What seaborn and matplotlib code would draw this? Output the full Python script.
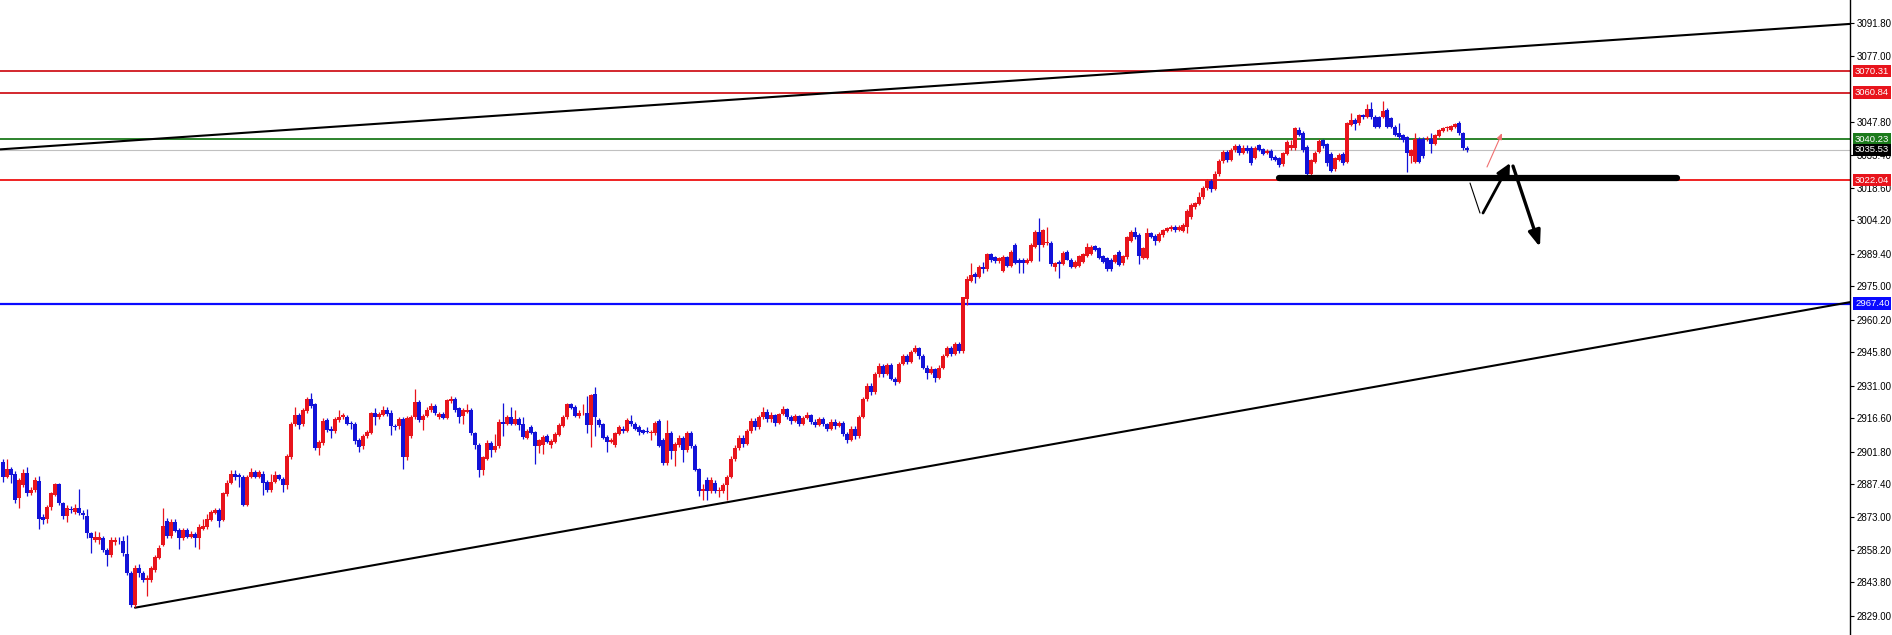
import numpy as np
import pandas as pd
import matplotlib
matplotlib.use("Agg")
import matplotlib.pyplot as plt
import matplotlib.transforms as mtransforms
import seaborn as sns

# candle data (one bar per period)
opens = [
    2897.3, 2890.7, 2893.9, 2892.0, 2881.0, 2887.0, 2892.1, 2883.3, 2884.7, 2888.9,
    2873.0, 2871.7, 2877.4, 2882.5, 2887.4, 2878.8, 2873.2, 2876.0, 2875.1, 2876.6,
    2874.7, 2873.2, 2865.5, 2862.6, 2862.5, 2863.3, 2858.2, 2855.9, 2861.8, 2862.6,
    2862.1, 2856.2, 2848.1, 2833.8, 2850.0, 2848.1, 2844.9, 2844.9, 2849.3, 2854.5,
    2860.4, 2871.0, 2864.5, 2870.7, 2867.0, 2863.3, 2867.0, 2864.1, 2865.3, 2863.3,
    2867.5, 2868.2, 2871.5, 2874.4, 2875.9, 2871.5, 2883.0, 2888.0, 2891.7, 2891.5,
    2890.7, 2878.1, 2890.7, 2892.6, 2890.7, 2892.0, 2888.4, 2884.7, 2888.4, 2891.4,
    2889.8, 2887.0, 2899.5, 2913.9, 2917.9, 2913.9, 2919.9, 2924.9, 2922.7, 2903.2,
    2905.7, 2915.7, 2911.6, 2911.0, 2915.7, 2916.9, 2916.9, 2914.5, 2913.8, 2907.1,
    2904.2, 2908.6, 2910.2, 2919.0, 2916.9, 2918.2, 2920.1, 2919.0, 2913.1, 2913.1,
    2916.0, 2899.5, 2908.6, 2916.9, 2923.8, 2915.7, 2917.5, 2920.1, 2921.9, 2916.9,
    2918.4, 2916.5, 2924.3, 2925.3, 2920.9, 2917.5, 2919.4, 2920.4, 2909.8, 2904.6,
    2893.6, 2898.7, 2905.4, 2902.4, 2904.2, 2915.0, 2914.2, 2916.9, 2914.2, 2916.0,
    2913.9, 2908.0, 2912.5, 2910.5, 2904.2, 2904.6, 2908.6, 2904.6, 2906.1, 2909.1,
    2913.1, 2916.9, 2922.7, 2921.6, 2917.5, 2918.7, 2919.0, 2913.5, 2927.1, 2915.7,
    2913.9, 2908.3, 2906.1, 2904.6, 2909.5, 2912.0, 2910.8, 2915.4, 2914.2, 2912.8,
    2911.3, 2910.4, 2909.8, 2909.8, 2915.3, 2907.1, 2896.8, 2910.1, 2902.1, 2904.6,
    2907.6, 2902.4, 2910.1, 2904.2, 2893.9, 2884.4, 2889.4, 2884.4, 2887.7, 2884.4,
    2884.4, 2886.9, 2890.6, 2898.7, 2903.5, 2908.0, 2905.0, 2911.0, 2915.5, 2912.5,
    2917.0, 2919.5, 2916.0, 2918.0, 2914.5, 2918.5, 2920.5, 2917.0, 2915.5, 2917.5,
    2914.0, 2916.5, 2918.0, 2915.0, 2913.5, 2916.0, 2914.0, 2912.0, 2915.0, 2913.0,
    2914.5, 2909.5, 2907.0, 2912.0, 2908.5, 2917.0, 2925.0, 2931.0, 2928.0, 2936.0,
    2939.5, 2936.0, 2940.0, 2934.0, 2932.5, 2940.5, 2944.0, 2941.5, 2946.0, 2947.5,
    2944.0, 2939.0, 2936.5, 2938.5, 2934.5, 2939.0, 2944.0, 2947.5, 2945.0, 2949.5,
    2946.5, 2969.2, 2977.5, 2980.5, 2979.3, 2983.4, 2982.9, 2989.3, 2987.8, 2986.4,
    2982.0, 2987.8, 2984.0, 2993.3, 2986.6, 2986.9, 2985.5, 2986.4, 2992.6, 2999.2,
    2993.3, 2994.2, 2994.0, 2983.4, 2985.9, 2984.9, 2990.3, 2986.9, 2983.4, 2984.0,
    2985.9, 2988.4, 2989.3, 2992.9, 2991.8, 2988.4, 2987.4, 2986.9, 2985.9, 2990.3,
    2985.2, 2987.8, 2995.2, 2999.2, 2997.7, 2987.4, 2987.4, 2998.5, 2997.3, 2995.2,
    2997.7, 2999.6, 3000.2, 3001.4, 2999.9, 2999.6, 3001.4, 3005.9, 3010.3, 3011.5,
    3014.7, 3018.5, 3021.5, 3018.0, 3025.0, 3030.5, 3034.5, 3031.0, 3035.5, 3037.0,
    3034.0, 3036.5, 3036.1, 3032.1, 3037.5, 3035.7, 3034.1, 3035.1, 3032.4, 3032.0,
    3029.2, 3033.6, 3036.1, 3036.1, 3044.5, 3043.1, 3036.9, 3024.8, 3030.1, 3034.6,
    3039.8, 3038.0, 3033.6, 3026.8, 3031.0, 3033.6, 3030.2, 3046.5, 3048.7, 3047.2,
    3050.9, 3050.2, 3053.8, 3050.2, 3049.9, 3050.2, 3053.1, 3049.4, 3045.7, 3043.1,
    3042.0, 3041.0, 3032.7, 3030.2, 3040.5, 3040.5, 3040.1, 3040.5, 3038.3, 3041.5,
    3044.0, 3045.0, 3044.5, 3045.7, 3047.5, 3043.1, 3036.1,
]
highs = [
    2898.5, 2898.3, 2895.0, 2893.0, 2890.0, 2894.0, 2895.0, 2886.0, 2890.5, 2891.0,
    2874.0, 2878.0, 2884.0, 2888.0, 2888.0, 2879.5, 2878.0, 2877.5, 2878.5, 2885.0,
    2876.0, 2876.5, 2866.0, 2866.5, 2866.0, 2864.5, 2859.0, 2864.0, 2864.0, 2864.0,
    2864.5, 2864.8, 2849.0, 2851.5, 2851.8, 2849.0, 2847.0, 2851.0, 2856.0, 2860.5,
    2876.6, 2872.5, 2872.0, 2872.0, 2868.0, 2868.0, 2868.0, 2866.5, 2866.0, 2869.5,
    2872.0, 2874.0, 2876.0, 2877.0, 2877.0, 2884.0, 2889.0, 2893.7, 2893.5, 2892.5,
    2891.5, 2891.5, 2894.5, 2893.5, 2893.5, 2893.0, 2889.0, 2892.0, 2893.0, 2892.0,
    2890.5, 2900.5, 2915.0, 2921.6, 2919.0, 2921.0, 2926.0, 2927.8, 2923.5, 2907.0,
    2916.5, 2916.5, 2913.0, 2917.0, 2920.4, 2919.0, 2918.0, 2915.5, 2915.0, 2908.0,
    2909.5, 2911.5, 2919.5, 2921.3, 2919.5, 2921.9, 2921.5, 2920.0, 2914.0, 2917.0,
    2917.2, 2917.5, 2918.0, 2929.7, 2924.5, 2918.5, 2921.5, 2923.1, 2922.7, 2919.5,
    2919.2, 2925.3, 2926.3, 2926.0, 2921.5, 2921.0, 2922.9, 2921.0, 2910.5, 2905.5,
    2900.0, 2907.1, 2906.5, 2909.5, 2916.0, 2923.1, 2918.0, 2921.6, 2920.4, 2917.0,
    2916.9, 2912.0, 2913.5, 2911.0, 2907.5, 2909.0, 2909.5, 2907.5, 2910.5, 2914.5,
    2918.0, 2923.5, 2923.5, 2922.5, 2920.0, 2922.7, 2926.3, 2927.5, 2930.2, 2916.5,
    2914.5, 2909.0, 2908.0, 2910.5, 2913.5, 2913.0, 2916.5, 2917.9, 2915.0, 2913.5,
    2912.0, 2912.8, 2911.5, 2915.5, 2916.0, 2908.0, 2915.7, 2911.0, 2906.0, 2909.0,
    2908.5, 2911.0, 2911.0, 2905.0, 2894.5, 2887.5, 2890.5, 2890.5, 2889.0, 2886.0,
    2888.0, 2891.5, 2900.0, 2904.5, 2909.0, 2909.0, 2912.0, 2916.5, 2916.5, 2918.0,
    2921.5, 2920.5, 2919.5, 2918.5, 2919.0, 2922.0, 2921.0, 2918.0, 2918.5, 2918.0,
    2917.5, 2919.5, 2918.5, 2916.0, 2917.0, 2917.0, 2914.5, 2916.0, 2916.0, 2915.5,
    2915.5, 2910.5, 2913.0, 2913.0, 2918.0, 2926.0, 2932.0, 2932.0, 2937.0, 2941.0,
    2940.5, 2941.0, 2941.0, 2935.0, 2941.5, 2945.0, 2945.0, 2947.0, 2949.0, 2948.0,
    2945.0, 2940.0, 2939.5, 2939.0, 2940.0, 2945.0, 2948.5, 2948.5, 2950.5, 2950.5,
    2970.5, 2979.5, 2985.2, 2981.5, 2984.5, 2985.9, 2990.0, 2989.9, 2988.5, 2988.0,
    2989.0, 2988.5, 2991.0, 2994.0, 2987.5, 2987.5, 2987.5, 2994.0, 3000.0, 3005.1,
    3000.5, 3001.4, 2995.0, 2986.0, 2986.5, 2990.5, 2991.0, 2987.5, 2986.5, 2989.0,
    2990.0, 2994.0, 2993.5, 2993.5, 2992.5, 2989.0, 2988.0, 2987.5, 2989.5, 2991.0,
    2989.0, 2997.5, 3000.0, 3001.1, 2998.5, 2992.5, 3000.7, 2999.0, 2998.0, 2999.0,
    3000.5, 3001.5, 3002.0, 3002.0, 3002.0, 3003.0, 3009.5, 3012.0, 3012.5, 3016.9,
    3019.5, 3022.5, 3022.5, 3026.0, 3031.5, 3035.5, 3035.5, 3036.5, 3038.0, 3038.0,
    3037.5, 3037.5, 3037.0, 3037.0, 3038.3, 3036.5, 3036.0, 3036.0, 3033.0, 3032.5,
    3034.5, 3039.8, 3039.8, 3045.8, 3045.5, 3044.0, 3037.5, 3031.5, 3035.0, 3040.5,
    3040.5, 3038.5, 3034.5, 3032.5, 3034.2, 3034.5, 3048.0, 3051.9, 3049.5, 3051.5,
    3051.5, 3055.8, 3056.8, 3051.0, 3050.5, 3057.2, 3054.0, 3050.0, 3046.5, 3047.2,
    3042.5, 3041.5, 3036.0, 3042.8, 3041.0, 3041.0, 3041.5, 3042.8, 3042.5, 3044.8,
    3045.5, 3046.0, 3046.5, 3047.5, 3048.5, 3043.5, 3037.2,
]
lows = [
    2888.4, 2890.0, 2888.0, 2879.0, 2876.6, 2886.0, 2882.0, 2882.5, 2884.0, 2867.3,
    2869.5, 2870.0, 2876.0, 2882.0, 2878.0, 2872.0, 2870.7, 2874.5, 2874.0, 2873.5,
    2872.0, 2863.5, 2856.7, 2861.5, 2861.0, 2857.5, 2851.1, 2855.0, 2860.5, 2861.0,
    2855.5, 2847.0, 2833.0, 2833.0, 2846.0, 2844.0, 2837.8, 2844.0, 2848.5, 2854.0,
    2860.0, 2863.5, 2863.5, 2866.0, 2858.5, 2862.5, 2863.5, 2863.5, 2859.6, 2858.4,
    2867.0, 2867.5, 2871.0, 2874.0, 2868.4, 2871.0, 2882.0, 2887.5, 2889.0, 2886.0,
    2877.5, 2877.5, 2890.0, 2890.0, 2890.0, 2882.5, 2884.0, 2884.0, 2888.0, 2889.0,
    2884.0, 2885.0, 2898.5, 2913.0, 2912.0, 2913.0, 2919.0, 2921.0, 2902.5, 2900.2,
    2904.5, 2910.5, 2908.0, 2910.0, 2915.0, 2916.0, 2913.5, 2912.0, 2905.0, 2901.7,
    2903.0, 2908.0, 2909.5, 2913.5, 2916.0, 2917.5, 2917.5, 2909.1, 2911.5, 2912.0,
    2893.9, 2898.0, 2907.6, 2916.0, 2915.0, 2911.3, 2917.0, 2919.5, 2918.0, 2916.0,
    2916.0, 2916.0, 2923.5, 2919.5, 2914.5, 2914.2, 2919.0, 2909.0, 2903.0, 2890.6,
    2891.3, 2898.0, 2899.2, 2901.5, 2903.5, 2908.6, 2913.5, 2913.5, 2913.5, 2911.5,
    2907.5, 2907.5, 2909.5, 2896.5, 2901.2, 2900.9, 2905.5, 2903.5, 2905.5, 2908.5,
    2912.5, 2916.0, 2920.5, 2917.0, 2916.5, 2918.0, 2910.1, 2903.6, 2908.6, 2912.5,
    2907.5, 2901.7, 2905.5, 2904.0, 2909.0, 2910.0, 2910.3, 2913.3, 2911.3, 2909.1,
    2909.5, 2909.8, 2906.9, 2909.3, 2903.8, 2896.0, 2896.0, 2898.3, 2895.3, 2904.0,
    2897.3, 2901.8, 2903.5, 2893.0, 2882.0, 2880.3, 2880.3, 2883.5, 2883.5, 2881.7,
    2883.5, 2880.3, 2890.0, 2897.5, 2902.5, 2904.0, 2904.5, 2910.0, 2911.5, 2912.0,
    2916.0, 2915.0, 2915.0, 2913.0, 2914.0, 2918.0, 2916.0, 2914.0, 2915.0, 2913.0,
    2913.5, 2916.0, 2914.0, 2912.5, 2913.0, 2913.0, 2911.0, 2911.5, 2912.0, 2912.5,
    2908.5, 2905.5, 2906.5, 2907.5, 2908.0, 2916.5, 2924.0, 2927.0, 2927.5, 2935.0,
    2935.0, 2935.5, 2933.5, 2931.5, 2932.0, 2940.0, 2940.5, 2941.0, 2945.5, 2943.0,
    2938.5, 2934.0, 2936.0, 2932.5, 2934.0, 2938.5, 2943.5, 2944.0, 2944.5, 2945.5,
    2945.5, 2966.6, 2977.0, 2976.3, 2978.5, 2980.7, 2982.0, 2986.0, 2985.5, 2985.5,
    2981.5, 2983.5, 2983.5, 2985.0, 2981.0, 2981.0, 2985.0, 2986.0, 2992.0, 2986.4,
    2992.5, 2993.5, 2984.0, 2981.9, 2978.5, 2984.5, 2986.5, 2983.0, 2983.0, 2983.5,
    2985.5, 2988.0, 2989.0, 2990.5, 2987.0, 2985.5, 2982.0, 2982.0, 2985.5, 2984.0,
    2984.5, 2987.0, 2994.5, 2996.0, 2984.9, 2987.0, 2987.0, 2996.5, 2993.3, 2994.5,
    2997.0, 2999.0, 2999.5, 2999.0, 2999.5, 2999.0, 2998.5, 3005.0, 3009.5, 3011.0,
    3013.5, 3017.5, 3017.0, 3017.5, 3024.0, 3029.5, 3030.0, 3030.5, 3034.5, 3033.0,
    3033.5, 3034.0, 3029.0, 3031.5, 3035.0, 3033.0, 3033.5, 3031.0, 3030.5, 3027.7,
    3028.5, 3033.0, 3035.5, 3035.5, 3041.5, 3034.5, 3024.0, 3024.0, 3029.5, 3034.0,
    3036.5, 3028.5, 3025.5, 3026.0, 3030.5, 3029.0, 3029.5, 3046.0, 3044.5, 3046.5,
    3049.0, 3049.5, 3049.0, 3045.0, 3045.0, 3049.5, 3045.0, 3045.0, 3041.5, 3040.5,
    3039.0, 3025.8, 3029.8, 3029.5, 3029.5, 3032.0, 3039.5, 3033.9, 3037.5, 3041.0,
    3043.5, 3044.0, 3044.0, 3045.0, 3042.0, 3035.5, 3034.7,
]
closes = [
    2890.7, 2893.9, 2891.4, 2880.3, 2889.2, 2892.1, 2883.3, 2884.7, 2889.2, 2871.9,
    2871.5, 2877.4, 2883.3, 2887.4, 2878.8, 2873.2, 2876.6, 2875.9, 2876.6, 2874.4,
    2873.6, 2865.5, 2863.3, 2864.1, 2864.0, 2858.2, 2855.9, 2862.6, 2862.8, 2862.4,
    2856.7, 2848.1, 2833.8, 2850.3, 2847.8, 2844.9, 2845.6, 2850.0, 2854.9, 2859.2,
    2868.8, 2864.5, 2870.7, 2866.8, 2863.3, 2867.0, 2864.1, 2865.3, 2863.3, 2868.5,
    2868.8, 2872.0, 2875.1, 2875.9, 2871.2, 2883.3, 2888.0, 2891.7, 2890.4, 2890.7,
    2878.1, 2890.7, 2892.9, 2890.7, 2892.6, 2888.0, 2884.7, 2888.4, 2891.4, 2889.8,
    2887.0, 2899.8, 2913.9, 2917.9, 2913.5, 2920.1, 2924.9, 2922.1, 2903.2, 2906.1,
    2915.4, 2911.3, 2911.0, 2916.0, 2917.2, 2917.9, 2914.2, 2913.8, 2906.6, 2903.6,
    2908.6, 2910.4, 2918.7, 2916.9, 2918.4, 2920.1, 2918.4, 2913.1, 2912.8, 2916.0,
    2899.5, 2916.5, 2916.9, 2923.8, 2915.7, 2917.5, 2920.4, 2921.9, 2918.7, 2918.4,
    2916.5, 2924.6, 2925.3, 2920.4, 2917.2, 2920.1, 2920.4, 2909.8, 2904.6, 2893.6,
    2899.2, 2905.4, 2902.4, 2904.2, 2915.0, 2914.2, 2916.9, 2914.2, 2916.0, 2913.5,
    2908.3, 2911.0, 2910.1, 2904.2, 2906.9, 2908.3, 2906.1, 2906.6, 2909.5, 2913.5,
    2916.9, 2922.7, 2921.3, 2917.5, 2919.0, 2918.9, 2913.5, 2926.8, 2916.9, 2913.5,
    2908.0, 2906.1, 2906.9, 2909.8, 2912.5, 2910.8, 2915.7, 2913.9, 2912.0, 2910.5,
    2910.1, 2910.3, 2910.5, 2914.5, 2904.2, 2896.8, 2910.1, 2902.1, 2905.1, 2908.0,
    2902.4, 2910.1, 2904.2, 2893.6, 2884.4, 2885.4, 2884.4, 2889.4, 2884.4, 2884.8,
    2886.9, 2890.6, 2898.7, 2903.5, 2908.0, 2905.0, 2911.0, 2915.5, 2912.5, 2917.0,
    2919.5, 2916.0, 2918.0, 2914.5, 2918.5, 2920.5, 2917.0, 2915.5, 2917.5, 2914.0,
    2916.5, 2918.0, 2915.0, 2913.5, 2916.0, 2914.0, 2912.0, 2915.0, 2913.0, 2914.5,
    2909.5, 2907.0, 2912.0, 2908.5, 2917.0, 2925.0, 2931.0, 2928.0, 2936.0, 2939.5,
    2936.0, 2940.0, 2934.0, 2932.5, 2940.5, 2944.0, 2941.5, 2946.0, 2947.5, 2944.0,
    2939.0, 2936.5, 2938.5, 2934.5, 2939.0, 2944.0, 2947.5, 2945.0, 2949.5, 2946.5,
    2970.1, 2978.1, 2980.0, 2979.3, 2983.7, 2982.5, 2989.3, 2986.7, 2986.4, 2987.4,
    2988.1, 2984.0, 2990.3, 2985.5, 2985.5, 2985.5, 2986.9, 2993.3, 2999.2, 2993.3,
    3000.0, 2994.8, 2984.9, 2985.2, 2984.9, 2989.9, 2986.9, 2983.4, 2985.9, 2988.4,
    2989.3, 2992.6, 2992.6, 2991.1, 2987.4, 2985.9, 2982.5, 2982.5, 2988.9, 2984.4,
    2988.4, 2996.7, 2999.2, 2996.7, 2988.4, 2991.8, 2998.5, 2997.0, 2995.2, 2998.2,
    2999.9, 3000.7, 3001.4, 2999.9, 3001.4, 3002.2, 3008.5, 3011.0, 3011.8, 3014.7,
    3018.5, 3021.5, 3018.0, 3025.0, 3030.5, 3034.5, 3031.0, 3035.5, 3037.0, 3034.0,
    3036.5, 3035.0, 3029.8, 3036.1, 3035.4, 3033.6, 3035.1, 3031.7, 3031.0, 3028.7,
    3033.9, 3039.1, 3037.5, 3045.0, 3042.0, 3035.4, 3025.0, 3030.9, 3034.2, 3039.5,
    3037.2, 3029.5, 3026.2, 3031.7, 3033.2, 3029.8, 3047.2, 3048.7, 3046.9, 3050.9,
    3049.9, 3053.8, 3049.9, 3045.7, 3045.7, 3052.8, 3045.7, 3045.7, 3042.0, 3041.0,
    3039.8, 3034.2, 3035.4, 3040.5, 3030.2, 3032.7, 3040.9, 3038.0, 3042.0, 3044.2,
    3045.0, 3045.2, 3046.0, 3046.9, 3042.8, 3036.1, 3035.5,
]

# horizontal price levels and their colours
level_prices = [3070.31, 3060.84, 3040.23, 3022.04, 2967.40]
level_colors = ["#d0161e", "#d0161e", "#1b7a1b", "#ee1111", "#0a0aff"]
last_price = 3035.53

# trend lines (bar index, price)
upper_trend_x = [-0.75, 461.75]
upper_trend_y = [3035.7, 3091.3]
lower_trend_x = [33.0, 461.75]
lower_trend_y = [2832.6, 2968.0]

# drawn support bar and projected path
support_x = [319.0, 418.5]
support_y = [3023.1, 3023.1]
path_thin = [(366.75, 3020.8), (369.25, 3007.5)]
path_up = [(370.0, 3007.5), (376.75, 3029.6)]
path_down = [(377.5, 3028.3), (384.25, 2992.4)]
path_pink = [(371.0, 3027.9), (374.75, 3042.9)]

# 3062.60 is covered by the 3060.84 tag in the chart, so it is left out
axis_ticks = [3091.8, 3077.0, 3047.8, 3033.4, 3018.6, 3004.2, 2989.4, 2975.0,
              2960.2, 2945.8, 2931.0, 2916.6, 2901.8, 2887.4, 2873.0, 2858.2, 2843.8, 2829.0]

UP_COLOR = "#e8141c"
DOWN_COLOR = "#1212d8"

sns.set_style("white")
plt.rcParams["font.family"] = ["Liberation Sans", "DejaVu Sans"]

df = pd.DataFrame({"open": opens, "high": highs, "low": lows, "close": closes})
df["idx"] = np.arange(len(df))
df["color"] = np.where(df["close"] >= df["open"], UP_COLOR, DOWN_COLOR)
df["body_lo"] = df[["open", "close"]].min(axis=1)
df["body_h"] = np.maximum((df["close"] - df["open"]).abs(), 0.4)

fig = plt.figure(figsize=(18.92, 6.35), dpi=100)
ax = fig.add_axes([0, 0, 1850 / 1892, 1])

# level lines
for p, c in zip(level_prices, level_colors):
    lw = 1.6 if c == "#0a0aff" else 1.3
    ax.axhline(p, color=c, lw=lw, zorder=1)
ax.axhline(last_price, color="#c0c0c0", lw=0.8, zorder=1)

# trend lines
sns.lineplot(x=upper_trend_x, y=upper_trend_y, color="black", lw=1.5, ax=ax, zorder=2)
sns.lineplot(x=lower_trend_x, y=lower_trend_y, color="black", lw=1.5, ax=ax, zorder=2)

# candles
ax.vlines(df["idx"], df["low"], df["high"], colors=df["color"], lw=0.9, zorder=3)
ax.bar(df["idx"], df["body_h"], bottom=df["body_lo"], width=0.8,
       color=df["color"], linewidth=0, zorder=4)

# support bar
ax.plot(support_x, support_y, color="black", lw=4.5, solid_capstyle="round", zorder=5)

# projected path
ax.plot([p[0] for p in path_thin], [p[1] for p in path_thin], color="black", lw=0.8, zorder=5)
ax.annotate("", xy=path_up[1], xytext=path_up[0], zorder=6,
            arrowprops=dict(arrowstyle="-|>,head_length=0.7,head_width=0.35",
                            color="black", lw=2.0, shrinkA=0, shrinkB=0, mutation_scale=12))
ax.annotate("", xy=path_down[1], xytext=path_down[0], zorder=6,
            arrowprops=dict(arrowstyle="-|>,head_length=0.8,head_width=0.3",
                            color="black", lw=2.4, shrinkA=0, shrinkB=0, mutation_scale=12))
ax.annotate("", xy=path_pink[1], xytext=path_pink[0], zorder=6,
            arrowprops=dict(arrowstyle="-|>,head_length=0.6,head_width=0.25",
                            color="#f07070", lw=0.8, shrinkA=0, shrinkB=0, mutation_scale=6))

ax.set_xlim(-0.75, 461.75)
ax.set_ylim(2820.5, 3101.9)

# right price axis
ax.set_xticks([])
ax.yaxis.tick_right()
ax.set_yticks(axis_ticks)
ax.set_yticklabels([f"{v:.2f}" for v in axis_ticks])
ax.tick_params(axis="y", direction="out", length=3, width=0.8, pad=2,
               labelsize=7, colors="black", right=True, left=False)
for s in ["top", "left", "bottom"]:
    ax.spines[s].set_visible(False)
ax.spines["right"].set_color("black")
ax.spines["right"].set_linewidth(1.0)

# price tags on the axis
trans = mtransforms.blended_transform_factory(ax.transAxes, ax.transData)
tag_prices = level_prices + [last_price]
tag_colors = ["#e8141c", "#e8141c", "#1b7a1b", "#e8141c", "#0a0aff", "black"]
for p, c in zip(tag_prices, tag_colors):
    ax.text(1.0 + 5.0 / 1850, p, f"{p:.2f}", transform=trans, ha="left", va="center",
            fontsize=6.8, color="white", clip_on=False, zorder=10,
            bbox=dict(boxstyle="square,pad=0.18", fc=c, ec="none"))

fig.savefig("out.png", dpi=100)
